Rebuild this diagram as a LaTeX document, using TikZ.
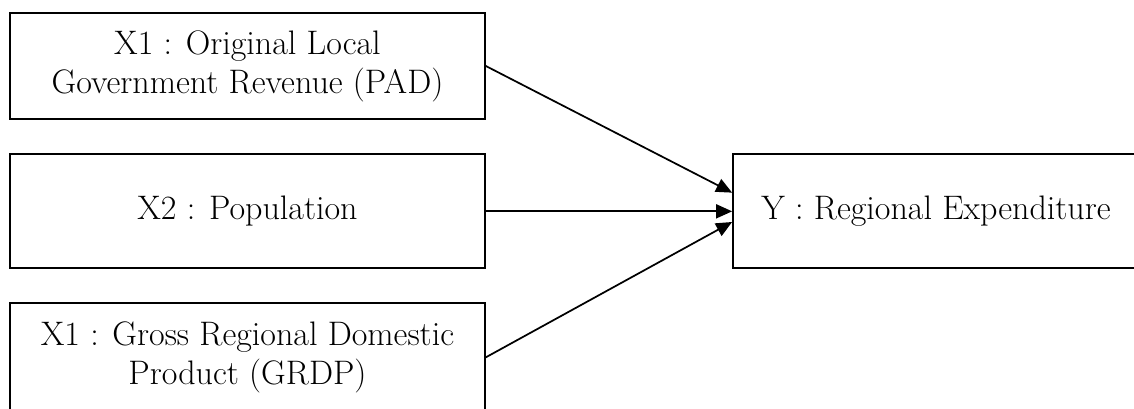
\documentclass[tikz,border=0pt]{standalone}
\usetikzlibrary{arrows.meta}
\begin{document}
\begin{tikzpicture}[node distance=109pt, line width=1.3pt,
    >={Triangle[length=12pt,width=10.5pt]},
    varbox/.style={draw, align=center, inner sep=0pt, font=\fontsize{25.5}{29.25}\selectfont}]
          \useasboundingbox (0,0) rectangle (850.5pt,-306.75pt);
          \clip (0,0) rectangle (850.5pt,-306.75pt);

          \node[varbox, minimum width=356.25pt, minimum height=79.5pt] at (185.6pt,-49.5pt) (x1) {X1 : Original Local\\Government Revenue (PAD)};
          \node[varbox, minimum width=356.25pt, minimum height=85.5pt, below of=x1] (x2) {X2 : Population};
          \node[varbox, minimum width=356.25pt, minimum height=81pt, below of=x2, node distance=109.5pt] (x3) {X1 : Gross Regional Domestic\\Product (GRDP)};

          \node[varbox, minimum width=304.5pt, minimum height=85.5pt, right of=x2, node distance=516.4pt] (y) {Y : Regional Expenditure};

          \path[->]
          (x1.east) edge ([yshift=14pt]y.west)
          (x2.east) edge (y.west)
          (x3.east) edge ([yshift=-8pt]y.west);
        \end{tikzpicture}
\end{document}
